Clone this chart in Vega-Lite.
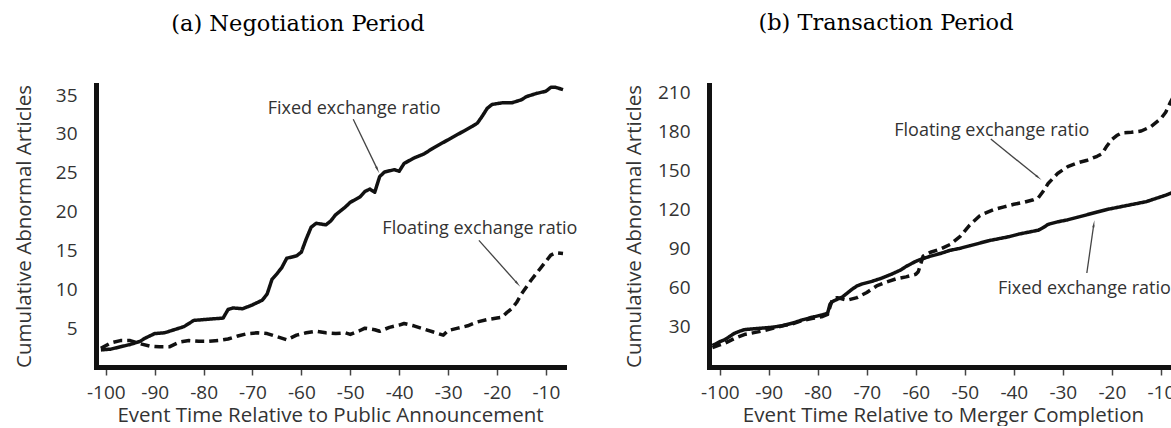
{
  "$schema": "https://vega.github.io/schema/vega-lite/v6.json",
  "padding": {"left": 14, "top": 12, "right": 0, "bottom": 0},
  "background": "white",
  "bounds": "flush",
  "spacing": 145,
  "config": {
    "view": {"stroke": null},
    "font": "Open Sans",
    "axis": {
      "grid": false,
      "domainColor": "#111",
      "domainWidth": 5,
      "domainCap": "square",
      "labelFont": "Open Sans",
      "labelFontSize": 19,
      "labelColor": "#333",
      "titleFont": "Open Sans",
      "titleFontSize": 20.5,
      "titleFontWeight": "normal",
      "titleColor": "#333"
    },
    "axisX": {
      "tickSize": 8,
      "tickWidth": 1.5,
      "tickColor": "#444",
      "labelPadding": 8.5,
      "titlePadding": 3,
      "values": [-100, -95, -90, -85, -80, -75, -70, -65, -60, -55, -50, -45, -40, -35, -30, -25, -20, -15, -10],
      "labelExpr": "datum.value % 10 === 0 ? toString(datum.value) : ''"
    },
    "axisY": {
      "ticks": false,
      "tickSize": 0,
      "labelPadding": 19,
      "titlePadding": 21
    },
    "title": {"font": "DejaVu Serif", "fontSize": 22.5, "fontWeight": "normal", "color": "#000"}
  },
  "datasets": {
    "neg": [
      {"t": -101, "v": 2.2, "s": "Fixed"}, {"t": -99, "v": 2.3, "s": "Fixed"}, {"t": -97, "v": 2.6, "s": "Fixed"}, {"t": -95, "v": 2.9, "s": "Fixed"},
      {"t": -93, "v": 3.3, "s": "Fixed"}, {"t": -92, "v": 3.7, "s": "Fixed"}, {"t": -90, "v": 4.3, "s": "Fixed"}, {"t": -88, "v": 4.4, "s": "Fixed"},
      {"t": -86, "v": 4.8, "s": "Fixed"}, {"t": -84, "v": 5.2, "s": "Fixed"}, {"t": -83, "v": 5.6, "s": "Fixed"}, {"t": -82, "v": 6.0, "s": "Fixed"},
      {"t": -80, "v": 6.1, "s": "Fixed"}, {"t": -78, "v": 6.2, "s": "Fixed"}, {"t": -76, "v": 6.3, "s": "Fixed"}, {"t": -75, "v": 7.4, "s": "Fixed"},
      {"t": -74, "v": 7.6, "s": "Fixed"}, {"t": -72, "v": 7.5, "s": "Fixed"}, {"t": -70, "v": 8.0, "s": "Fixed"}, {"t": -68, "v": 8.6, "s": "Fixed"},
      {"t": -67, "v": 9.4, "s": "Fixed"}, {"t": -66, "v": 11.3, "s": "Fixed"}, {"t": -65, "v": 12.0, "s": "Fixed"}, {"t": -64, "v": 12.8, "s": "Fixed"},
      {"t": -63, "v": 14.0, "s": "Fixed"}, {"t": -61, "v": 14.3, "s": "Fixed"}, {"t": -60, "v": 14.8, "s": "Fixed"}, {"t": -59, "v": 16.5, "s": "Fixed"},
      {"t": -58, "v": 18.0, "s": "Fixed"}, {"t": -57, "v": 18.5, "s": "Fixed"}, {"t": -55, "v": 18.3, "s": "Fixed"}, {"t": -54, "v": 18.8, "s": "Fixed"},
      {"t": -53, "v": 19.6, "s": "Fixed"}, {"t": -51, "v": 20.6, "s": "Fixed"}, {"t": -50, "v": 21.2, "s": "Fixed"}, {"t": -48, "v": 21.9, "s": "Fixed"},
      {"t": -47, "v": 22.6, "s": "Fixed"}, {"t": -46, "v": 22.9, "s": "Fixed"}, {"t": -45, "v": 22.5, "s": "Fixed"}, {"t": -44, "v": 24.5, "s": "Fixed"},
      {"t": -43, "v": 25.1, "s": "Fixed"}, {"t": -41, "v": 25.4, "s": "Fixed"}, {"t": -40, "v": 25.2, "s": "Fixed"}, {"t": -39, "v": 26.2, "s": "Fixed"},
      {"t": -37, "v": 26.9, "s": "Fixed"}, {"t": -35, "v": 27.4, "s": "Fixed"}, {"t": -33, "v": 28.2, "s": "Fixed"}, {"t": -31, "v": 28.9, "s": "Fixed"},
      {"t": -29, "v": 29.6, "s": "Fixed"}, {"t": -27, "v": 30.3, "s": "Fixed"}, {"t": -25, "v": 31.0, "s": "Fixed"}, {"t": -24, "v": 31.4, "s": "Fixed"},
      {"t": -23, "v": 32.3, "s": "Fixed"}, {"t": -22, "v": 33.3, "s": "Fixed"}, {"t": -21, "v": 33.8, "s": "Fixed"}, {"t": -19, "v": 34.0, "s": "Fixed"},
      {"t": -17, "v": 34.0, "s": "Fixed"}, {"t": -15, "v": 34.4, "s": "Fixed"}, {"t": -14, "v": 34.8, "s": "Fixed"}, {"t": -12, "v": 35.2, "s": "Fixed"},
      {"t": -10, "v": 35.5, "s": "Fixed"}, {"t": -9, "v": 36.0, "s": "Fixed"}, {"t": -8, "v": 36.0, "s": "Fixed"}, {"t": -6.5, "v": 35.7, "s": "Fixed"},
      {"t": -101, "v": 2.4, "s": "Floating"}, {"t": -99, "v": 3.1, "s": "Floating"}, {"t": -97, "v": 3.4, "s": "Floating"}, {"t": -95, "v": 3.4, "s": "Floating"},
      {"t": -93, "v": 3.0, "s": "Floating"}, {"t": -91, "v": 2.7, "s": "Floating"}, {"t": -89, "v": 2.6, "s": "Floating"}, {"t": -87, "v": 2.6, "s": "Floating"},
      {"t": -85, "v": 3.2, "s": "Floating"}, {"t": -83, "v": 3.4, "s": "Floating"}, {"t": -81, "v": 3.3, "s": "Floating"}, {"t": -79, "v": 3.3, "s": "Floating"},
      {"t": -77, "v": 3.4, "s": "Floating"}, {"t": -75, "v": 3.6, "s": "Floating"}, {"t": -73, "v": 4.0, "s": "Floating"}, {"t": -71, "v": 4.3, "s": "Floating"},
      {"t": -69, "v": 4.4, "s": "Floating"}, {"t": -67, "v": 4.3, "s": "Floating"}, {"t": -65, "v": 3.9, "s": "Floating"}, {"t": -63, "v": 3.5, "s": "Floating"},
      {"t": -61, "v": 4.1, "s": "Floating"}, {"t": -59, "v": 4.4, "s": "Floating"}, {"t": -57, "v": 4.6, "s": "Floating"}, {"t": -55, "v": 4.4, "s": "Floating"},
      {"t": -53, "v": 4.3, "s": "Floating"}, {"t": -51, "v": 4.4, "s": "Floating"}, {"t": -50, "v": 4.2, "s": "Floating"}, {"t": -48, "v": 4.7, "s": "Floating"},
      {"t": -47, "v": 5.0, "s": "Floating"}, {"t": -45, "v": 4.8, "s": "Floating"}, {"t": -44, "v": 4.6, "s": "Floating"}, {"t": -42, "v": 5.1, "s": "Floating"},
      {"t": -40, "v": 5.4, "s": "Floating"}, {"t": -39, "v": 5.6, "s": "Floating"}, {"t": -37, "v": 5.3, "s": "Floating"}, {"t": -35, "v": 4.9, "s": "Floating"},
      {"t": -33, "v": 4.5, "s": "Floating"}, {"t": -31, "v": 4.1, "s": "Floating"}, {"t": -30, "v": 4.7, "s": "Floating"}, {"t": -28, "v": 5.0, "s": "Floating"},
      {"t": -26, "v": 5.3, "s": "Floating"}, {"t": -24, "v": 5.8, "s": "Floating"}, {"t": -22, "v": 6.1, "s": "Floating"}, {"t": -20, "v": 6.3, "s": "Floating"},
      {"t": -19, "v": 6.4, "s": "Floating"}, {"t": -18, "v": 7.0, "s": "Floating"}, {"t": -17, "v": 7.5, "s": "Floating"}, {"t": -16, "v": 8.3, "s": "Floating"},
      {"t": -15, "v": 9.4, "s": "Floating"}, {"t": -13, "v": 11.2, "s": "Floating"}, {"t": -12, "v": 12.0, "s": "Floating"}, {"t": -10, "v": 13.6, "s": "Floating"},
      {"t": -9, "v": 14.4, "s": "Floating"}, {"t": -8, "v": 14.7, "s": "Floating"}, {"t": -6.5, "v": 14.6, "s": "Floating"}
    ],
    "trans": [
      {"t": -101.5, "v": 15, "s": "Fixed"}, {"t": -100, "v": 18, "s": "Fixed"}, {"t": -99, "v": 19.5, "s": "Fixed"}, {"t": -98, "v": 22, "s": "Fixed"},
      {"t": -97, "v": 24.5, "s": "Fixed"}, {"t": -96, "v": 26, "s": "Fixed"}, {"t": -95, "v": 27.3, "s": "Fixed"}, {"t": -93, "v": 28, "s": "Fixed"},
      {"t": -91, "v": 28.6, "s": "Fixed"}, {"t": -89, "v": 29.3, "s": "Fixed"}, {"t": -87, "v": 30.5, "s": "Fixed"}, {"t": -85, "v": 32.5, "s": "Fixed"},
      {"t": -83, "v": 35, "s": "Fixed"}, {"t": -81, "v": 37, "s": "Fixed"}, {"t": -79, "v": 38.8, "s": "Fixed"}, {"t": -78, "v": 40, "s": "Fixed"},
      {"t": -77.5, "v": 47, "s": "Fixed"}, {"t": -77, "v": 49, "s": "Fixed"}, {"t": -75, "v": 52.5, "s": "Fixed"}, {"t": -74, "v": 55.5, "s": "Fixed"},
      {"t": -73, "v": 58.5, "s": "Fixed"}, {"t": -72, "v": 61, "s": "Fixed"}, {"t": -71, "v": 62.5, "s": "Fixed"}, {"t": -69, "v": 64.5, "s": "Fixed"},
      {"t": -67, "v": 67, "s": "Fixed"}, {"t": -65, "v": 70, "s": "Fixed"}, {"t": -63, "v": 73.5, "s": "Fixed"}, {"t": -62, "v": 76, "s": "Fixed"},
      {"t": -61, "v": 78, "s": "Fixed"}, {"t": -60, "v": 80, "s": "Fixed"}, {"t": -59, "v": 81.5, "s": "Fixed"}, {"t": -57, "v": 84, "s": "Fixed"},
      {"t": -55, "v": 86, "s": "Fixed"}, {"t": -53, "v": 88.5, "s": "Fixed"}, {"t": -51, "v": 90, "s": "Fixed"}, {"t": -49, "v": 92, "s": "Fixed"},
      {"t": -47, "v": 94, "s": "Fixed"}, {"t": -45, "v": 96, "s": "Fixed"}, {"t": -43, "v": 97.5, "s": "Fixed"}, {"t": -41, "v": 99, "s": "Fixed"},
      {"t": -39, "v": 101, "s": "Fixed"}, {"t": -37, "v": 102.5, "s": "Fixed"}, {"t": -35, "v": 104, "s": "Fixed"}, {"t": -34, "v": 106, "s": "Fixed"},
      {"t": -33, "v": 108.5, "s": "Fixed"}, {"t": -31, "v": 110.5, "s": "Fixed"}, {"t": -29, "v": 112, "s": "Fixed"}, {"t": -27, "v": 114, "s": "Fixed"},
      {"t": -25, "v": 116, "s": "Fixed"}, {"t": -23, "v": 118, "s": "Fixed"}, {"t": -21, "v": 120, "s": "Fixed"}, {"t": -19, "v": 121.5, "s": "Fixed"},
      {"t": -17, "v": 123, "s": "Fixed"}, {"t": -15, "v": 124.5, "s": "Fixed"}, {"t": -13, "v": 126, "s": "Fixed"}, {"t": -11, "v": 128.5, "s": "Fixed"},
      {"t": -9, "v": 131, "s": "Fixed"}, {"t": -7, "v": 134, "s": "Fixed"},
      {"t": -101.5, "v": 13.5, "s": "Floating"}, {"t": -100, "v": 15.5, "s": "Floating"}, {"t": -99, "v": 16.8, "s": "Floating"}, {"t": -97, "v": 20.5, "s": "Floating"},
      {"t": -95, "v": 23.5, "s": "Floating"}, {"t": -93, "v": 25, "s": "Floating"}, {"t": -91, "v": 26.5, "s": "Floating"}, {"t": -89, "v": 28.5, "s": "Floating"},
      {"t": -87, "v": 30.5, "s": "Floating"}, {"t": -85, "v": 32, "s": "Floating"}, {"t": -83, "v": 34.5, "s": "Floating"}, {"t": -81, "v": 36, "s": "Floating"},
      {"t": -79, "v": 37.5, "s": "Floating"}, {"t": -78, "v": 39, "s": "Floating"}, {"t": -77.5, "v": 45, "s": "Floating"}, {"t": -77, "v": 51, "s": "Floating"},
      {"t": -76, "v": 52, "s": "Floating"}, {"t": -74, "v": 50, "s": "Floating"}, {"t": -72, "v": 52, "s": "Floating"}, {"t": -70, "v": 56, "s": "Floating"},
      {"t": -68, "v": 61, "s": "Floating"}, {"t": -66, "v": 64, "s": "Floating"}, {"t": -64, "v": 66.5, "s": "Floating"}, {"t": -62, "v": 68, "s": "Floating"},
      {"t": -60, "v": 70, "s": "Floating"}, {"t": -59.5, "v": 72, "s": "Floating"}, {"t": -58.5, "v": 84, "s": "Floating"}, {"t": -57, "v": 87, "s": "Floating"},
      {"t": -55, "v": 89.5, "s": "Floating"}, {"t": -53, "v": 93, "s": "Floating"}, {"t": -51, "v": 99, "s": "Floating"}, {"t": -49, "v": 108, "s": "Floating"},
      {"t": -47, "v": 115, "s": "Floating"}, {"t": -46, "v": 117, "s": "Floating"}, {"t": -44, "v": 120, "s": "Floating"}, {"t": -42, "v": 122, "s": "Floating"},
      {"t": -40, "v": 124, "s": "Floating"}, {"t": -38, "v": 125.5, "s": "Floating"}, {"t": -36, "v": 127.5, "s": "Floating"}, {"t": -35, "v": 129, "s": "Floating"},
      {"t": -34, "v": 134, "s": "Floating"}, {"t": -33, "v": 140, "s": "Floating"}, {"t": -32, "v": 144, "s": "Floating"}, {"t": -31, "v": 148, "s": "Floating"},
      {"t": -29, "v": 153, "s": "Floating"}, {"t": -27, "v": 156, "s": "Floating"}, {"t": -25, "v": 158, "s": "Floating"}, {"t": -23, "v": 161, "s": "Floating"},
      {"t": -22, "v": 163, "s": "Floating"}, {"t": -21, "v": 169, "s": "Floating"}, {"t": -20, "v": 174, "s": "Floating"}, {"t": -19, "v": 177, "s": "Floating"},
      {"t": -18, "v": 179, "s": "Floating"}, {"t": -16, "v": 179.5, "s": "Floating"}, {"t": -14, "v": 180.5, "s": "Floating"}, {"t": -12, "v": 184, "s": "Floating"},
      {"t": -10, "v": 190, "s": "Floating"}, {"t": -9, "v": 195, "s": "Floating"}, {"t": -8, "v": 203, "s": "Floating"}, {"t": -7, "v": 210, "s": "Floating"}
    ],
    "negNotes": [
      {"label": "Fixed exchange ratio", "x": -49.2, "y": 33.2, "x2": -44.5, "y2": 25.5, "xs": -49.4, "ys": 31.9, "s": "Fixed"},
      {"label": "Floating exchange ratio", "x": -23.5, "y": 17.8, "x2": -15.9, "y2": 10.8, "xs": -23.7, "ys": 16.3, "s": "Floating"}
    ],
    "transNotes": [
      {"label": "Floating exchange ratio", "x": -44.5, "y": 180.5, "x2": -35.1, "y2": 145.0, "xs": -44.7, "ys": 174.3, "s": "Floating"},
      {"label": "Fixed exchange ratio", "x": -25.6, "y": 58.6, "x2": -23.7, "y2": 108.0, "xs": -25.1, "ys": 71.0, "s": "Fixed"}
    ]
  },
  "hconcat": [
    {
      "width": 468,
      "height": 282,
      "title": {"text": "(a) Negotiation Period", "anchor": "middle", "frame": "group", "dx": -32, "offset": 49},
      "layer": [
        {
          "data": {"name": "neg"},
          "mark": {"type": "line", "color": "#111", "strokeWidth": 3.5, "strokeJoin": "round"},
          "encoding": {
            "x": {"field": "t", "type": "quantitative", "scale": {"domain": [-102, -6.3], "nice": false, "zero": false}, "title": "Event Time Relative to Public Announcement"},
            "y": {"field": "v", "type": "quantitative", "scale": {"domain": [0, 36.3], "nice": false, "zero": false}, "title": "Cumulative Abnormal Articles", "axis": {"values": [5, 10, 15, 20, 25, 30, 35]}},
            "strokeDash": {"field": "s", "type": "nominal", "scale": {"domain": ["Fixed", "Floating"], "range": [[1, 0], [9, 5]]}, "legend": null}
          }
        },
        {
          "data": {"name": "negNotes"},
          "mark": {"type": "rule", "color": "#444", "strokeWidth": 1.3},
          "encoding": {"x": {"field": "xs", "type": "quantitative"}, "y": {"field": "ys", "type": "quantitative"}, "x2": {"field": "x2"}, "y2": {"field": "y2"}}
        },
        {
          "data": {"name": "negNotes"},
          "transform": [{"filter": "datum.s === 'Fixed'"}],
          "mark": {"type": "point", "shape": "wedge", "filled": true, "color": "#444", "size": 70, "angle": 154, "opacity": 1},
          "encoding": {"x": {"field": "x2", "type": "quantitative"}, "y": {"field": "y2", "type": "quantitative"}}
        },
        {
          "data": {"name": "negNotes"},
          "transform": [{"filter": "datum.s === 'Floating'"}],
          "mark": {"type": "point", "shape": "wedge", "filled": true, "color": "#444", "size": 70, "angle": 138, "opacity": 1},
          "encoding": {"x": {"field": "x2", "type": "quantitative"}, "y": {"field": "y2", "type": "quantitative"}}
        },
        {
          "data": {"name": "negNotes"},
          "mark": {"type": "text", "font": "Open Sans", "fontSize": 18, "color": "#333", "align": "center", "baseline": "middle"},
          "encoding": {"x": {"field": "x", "type": "quantitative"}, "y": {"field": "y", "type": "quantitative"}, "text": {"field": "label"}}
        }
      ]
    },
    {
      "width": 468,
      "height": 282,
      "title": {"text": "(b) Transaction Period", "anchor": "middle", "frame": "group", "dx": -57, "offset": 49},
      "layer": [
        {
          "data": {"name": "trans"},
          "mark": {"type": "line", "color": "#111", "strokeWidth": 3.5, "strokeJoin": "round"},
          "encoding": {
            "x": {"field": "t", "type": "quantitative", "scale": {"domain": [-102.2, -6.7], "nice": false, "zero": false}, "title": "Event Time Relative to Merger Completion"},
            "y": {"field": "v", "type": "quantitative", "scale": {"domain": [-1.5, 216], "nice": false, "zero": false}, "title": "Cumulative Abnormal Articles", "axis": {"values": [30, 60, 90, 120, 150, 180, 210], "titlePadding": 13}},
            "strokeDash": {"field": "s", "type": "nominal", "scale": {"domain": ["Fixed", "Floating"], "range": [[1, 0], [9, 5]]}, "legend": null}
          }
        },
        {
          "data": {"name": "transNotes"},
          "mark": {"type": "rule", "color": "#444", "strokeWidth": 1.3},
          "encoding": {"x": {"field": "xs", "type": "quantitative"}, "y": {"field": "ys", "type": "quantitative"}, "x2": {"field": "x2"}, "y2": {"field": "y2"}}
        },
        {
          "data": {"name": "transNotes"},
          "transform": [{"filter": "datum.s === 'Floating'"}],
          "mark": {"type": "point", "shape": "wedge", "filled": true, "color": "#444", "size": 70, "angle": 129, "opacity": 1},
          "encoding": {"x": {"field": "x2", "type": "quantitative"}, "y": {"field": "y2", "type": "quantitative"}}
        },
        {
          "data": {"name": "transNotes"},
          "transform": [{"filter": "datum.s === 'Fixed'"}],
          "mark": {"type": "point", "shape": "wedge", "filled": true, "color": "#444", "size": 70, "angle": 8, "opacity": 1},
          "encoding": {"x": {"field": "x2", "type": "quantitative"}, "y": {"field": "y2", "type": "quantitative"}}
        },
        {
          "data": {"name": "transNotes"},
          "mark": {"type": "text", "font": "Open Sans", "fontSize": 18, "color": "#333", "align": "center", "baseline": "middle"},
          "encoding": {"x": {"field": "x", "type": "quantitative"}, "y": {"field": "y", "type": "quantitative"}, "text": {"field": "label"}}
        }
      ]
    }
  ]
}
